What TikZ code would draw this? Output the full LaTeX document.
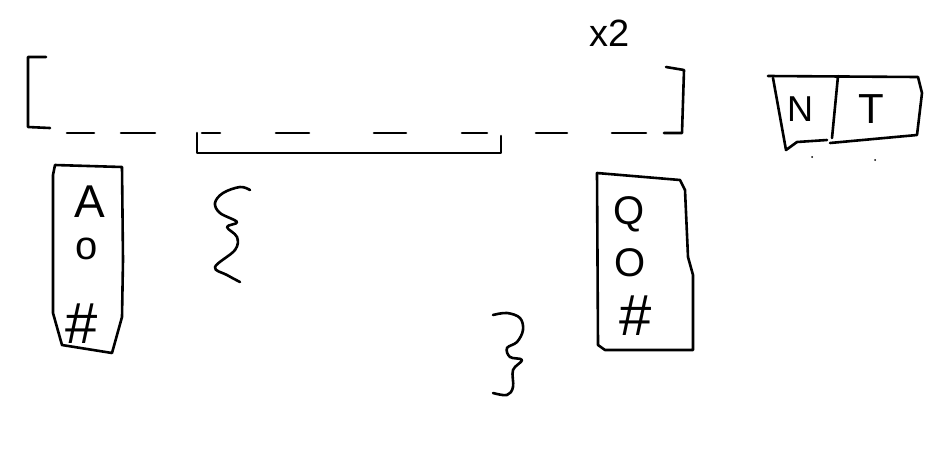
\documentclass[tikz,border=0pt]{standalone}
\usepackage{fontspec}
\setmainfont{Liberation Sans}
\tikzset{
  ink/.style={line width=2.6pt,line cap=round,line join=round},
  glyph/.style={inner sep=0pt,font=\fontsize{#1}{#1}\selectfont}
}
\begin{document}
\begin{tikzpicture}[x=1pt,y=-1pt,ink]
\useasboundingbox(0,0)rectangle(947,459);
\pgfmathsetmacro{\dy}{133}
\pgfmathsetmacro{\sy}{153}
\draw(46,57)--(28,57)--(28,127)--(50,128);
\foreach \a/\b in {67/94,121/155,202/220,276/309,374/406,462/487,536/567,612/646}{\draw(\a,\dy)--(\b,\dy);}
\draw(666,67)--(684,70)--(682,\dy)--(664,\dy);
\draw(197,\dy)--(197,\sy)--(501,\sy)--(501,136);
\node[glyph=38](rep)at(610,33){x2};
\draw(55,165)--(122,167)--(123,260)--(122,317)--(112,353)--(62,345)--(53,313)--(53,175)--cycle;
\node[glyph=46](a)at(90,202){A};
\node[glyph=40](o)at(87,249){o};
\node[glyph=58](h1)at(82,324){\#};
\draw(597,173)--(680,180)--(685,190)--(688,257)--(693,275)--(693,350)--(605,350)--(598,345)--cycle;
\node[glyph=40](q)at(629,214){Q};
\node[glyph=40](o2)at(630,263){O};
\node[glyph=58](h2)at(636,316){\#};
\draw plot[smooth,tension=0.6]coordinates{(250,190)(240,187)(223,193)(215,203)(220,213)(237,222)(227,227)(237,237)(235,250)(215,267)(227,275)(240,282)};
\draw plot[smooth,tension=0.6]coordinates{(493,315)(507,313)(520,318)(523,330)(517,342)(507,348)(510,357)(522,360)(513,370)(513,387)(507,395)(493,393)};
\draw(768,76)--(918,77)--(922,93)--(917,135)--(830,143);
\draw(773,78)--(786,150)--(797,142)--(827,140);
\draw(838,76)--(832,138);
\node[glyph=36](n)at(800,109){N};
\node[glyph=42](t)at(871,109){T};
\fill(812,157)circle(1pt);
\fill(875,160)circle(1pt);
\end{tikzpicture}
\end{document}
